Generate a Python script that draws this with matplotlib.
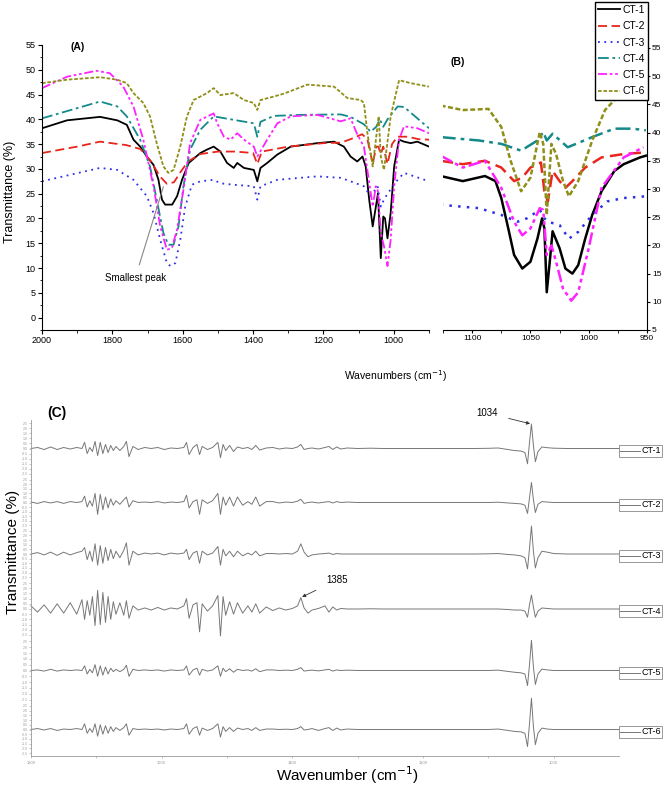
import matplotlib.pyplot as plt
import matplotlib.patches as patches
import numpy as np

plt.rcParams['font.family'] = ['Liberation Sans', 'DejaVu Sans']

W, H = 666, 785

series_names = ["CT-1", "CT-2", "CT-3", "CT-4", "CT-5", "CT-6"]
series_colors = ["black", "#e8261c", "#2e2ee6", "#14898a", "#ff22ff", "#8f8f1a"]
series_dashes = ["-", (0, (5, 2.5)), (0, (1, 2.5)), (0, (6, 2, 1.5, 2)),
                 (0, (5, 1.5, 1.5, 1.5, 1.5, 1.5)), (0, (2, 1))]

# ---- panel A: full range spectra (wavenumber, transmittance %) ----
a_ct1_wn = [2000, 1929, 1835, 1786, 1759, 1740, 1721, 1702, 1683, 1669, 1659, 1650, 1630,
            1616, 1602, 1583, 1550, 1531, 1512, 1493, 1474, 1455, 1445, 1426, 1398, 1388,
            1379, 1360, 1331, 1293, 1217, 1170, 1142, 1123, 1104, 1089, 1080, 1070, 1060,
            1051, 1045, 1037, 1030, 1025, 1018, 1009, 999, 985, 971, 952, 933, 900]
a_ct1_t = [38.2, 39.8, 40.5, 39.8, 38.9, 35.9, 34.5, 32.5, 30.8, 27.8, 23.8, 22.8, 22.8,
           24.5, 27.8, 31.2, 33.2, 33.9, 34.5, 33.5, 31.2, 30.2, 31.2, 30.2, 29.8, 27.5,
           30.2, 31.2, 32.9, 34.5, 35.2, 35.5, 34.5, 32.5, 31.5, 32.5, 30.5, 23.8, 18.4,
           22.4, 25.1, 12, 20.4, 20, 16, 21.1, 30.5, 35.9, 35.5, 35.2, 35.5, 34.5]

a_ct2_wn = [2000, 1900, 1835, 1760, 1720, 1690, 1665, 1645, 1625, 1605, 1585, 1550, 1500,
            1450, 1400, 1388, 1375, 1300, 1200, 1150, 1123, 1090, 1075, 1060, 1050, 1044,
            1037, 1030, 1018, 1005, 990, 960, 930, 900]
a_ct2_t = [33.2, 34.5, 35.5, 34.8, 34, 31.5, 28.5, 27, 27.3, 29.5, 31.5, 33, 33.5,
           33.5, 33.2, 31, 33.5, 34.5, 35.2, 35.3, 36, 37, 36, 31, 34.5, 34.5,
           33, 34.5, 31, 35, 36.5, 36.5, 36, 35.9]

a_ct3_wn = [2000, 1835, 1786, 1740, 1702, 1683, 1664, 1645, 1635, 1621, 1607, 1593, 1574,
            1550, 1512, 1493, 1455, 1398, 1388, 1379, 1331, 1217, 1151, 1123, 1085, 1066,
            1046, 1037, 1028, 1018, 989, 971, 900]
a_ct3_t = [27.5, 30.2, 29.8, 27.8, 24.5, 21.1, 15.7, 11, 10.4, 11, 15.7, 22.4, 26.8,
           27.5, 27.8, 27.1, 26.8, 26.5, 23.8, 26.5, 27.8, 28.5, 28.2, 27.5, 26.5, 24.5,
           26.5, 22.4, 23.8, 25, 27.8, 29.2, 27.5]

a_ct4_wn = [2000, 1835, 1786, 1759, 1721, 1693, 1674, 1655, 1641, 1626, 1612, 1598, 1579,
            1550, 1512, 1455, 1398, 1388, 1379, 1341, 1265, 1151, 1123, 1085, 1066, 1050,
            1040, 1030, 1018, 989, 971, 900]
a_ct4_t = [40.2, 43.6, 42.6, 40.6, 35.9, 30.5, 23.8, 17.1, 14.7, 14.7, 18.4, 26.5, 33.9,
           37.9, 40.6, 39.9, 39.2, 36.5, 39.5, 40.7, 40.9, 41, 40.5, 39, 37.5, 38.5,
           40, 38.5, 40, 42.6, 42.5, 38.2]

a_ct5_wn = [2000, 1929, 1845, 1807, 1769, 1740, 1712, 1683, 1664, 1645, 1631, 1616, 1598,
            1579, 1550, 1512, 1502, 1483, 1464, 1445, 1426, 1398, 1388, 1360, 1331, 1293,
            1217, 1151, 1123, 1104, 1085, 1071, 1060, 1051, 1045, 1037, 1028, 1018, 1009,
            999, 985, 971, 933, 900]
a_ct5_t = [46.3, 48.6, 49.8, 49.3, 46.6, 42.6, 35.9, 26.5, 18.4, 13.7, 14, 17.8, 25.8,
           35.2, 39.9, 41.2, 39.2, 36.5, 35.9, 37.2, 35.9, 34.5, 32.5, 35.9, 39.2, 40.6,
           40.9, 39.6, 40.2, 37, 34.5, 27.8, 22.4, 26.5, 25.5, 17.1, 14.4, 10.4, 15.7,
           26.5, 35.9, 38.6, 38.2, 37.2]

a_ct6_wn = [2000, 1929, 1835, 1786, 1759, 1740, 1712, 1693, 1674, 1655, 1641, 1626, 1607,
            1588, 1569, 1531, 1512, 1493, 1455, 1426, 1398, 1388, 1379, 1341, 1312, 1246,
            1170, 1132, 1094, 1085, 1075, 1060, 1043, 1037, 1028, 1009, 985, 952, 900]
a_ct6_t = [47.3, 48, 48.5, 48, 47.3, 45.3, 43.3, 40.6, 35.2, 30.5, 29.2, 29.8, 34.5,
           40.6, 43.9, 45.3, 46.3, 44.9, 45.3, 43.9, 43.3, 41.9, 43.9, 44.6, 45.2, 47,
           46.6, 44.3, 43.9, 43.3, 37.2, 30.5, 40.6, 32.5, 29.8, 40.6, 47.9, 47.3, 46.6]

# ---- panel B: 1125-950 region ----
b_ct1_wn = [1127, 1108, 1089, 1080, 1075, 1069, 1064, 1057, 1050, 1044, 1040, 1038, 1036,
            1033, 1031, 1025, 1020, 1014, 1009, 1003, 997, 989, 978, 970, 956, 951]
b_ct1_t = [32.3, 31.4, 32.3, 31.4, 28.4, 23, 18.3, 15.9, 17.1, 21.2, 24.8, 23, 11.7,
           18, 22.5, 19.5, 15.9, 15, 16.5, 21.2, 25.4, 29.6, 33.2, 34.4, 35.6, 35.9]

b_ct2_wn = [1127, 1108, 1089, 1075, 1064, 1057, 1050, 1041, 1038, 1035, 1031, 1025, 1020,
            1014, 1003, 989, 970, 951]
b_ct2_t = [35, 34.4, 35, 33.8, 31.4, 32, 33.8, 34.7, 29.6, 27.8, 33.2, 31.4, 30.2,
           31.4, 33.8, 35.6, 36.2, 36.5]

b_ct3_wn = [1127, 1094, 1075, 1061, 1053, 1042, 1038, 1035, 1025, 1017, 1009, 997, 984,
            970, 951]
b_ct3_t = [27.2, 26.6, 25.4, 24.2, 24.8, 26.3, 24.8, 24.2, 23.6, 21.2, 22.4, 25.4, 27.8,
           28.4, 28.7]

b_ct4_wn = [1127, 1094, 1075, 1058, 1044, 1039, 1036, 1031, 1018, 997, 978, 962, 951]
b_ct4_t = [39.2, 38.6, 38, 36.8, 38.6, 40.1, 38.6, 39.8, 37.4, 39.2, 40.7, 40.7, 40.4]

b_ct5_wn = [1127, 1108, 1089, 1075, 1064, 1057, 1050, 1042, 1039, 1036, 1032, 1028, 1022,
            1015, 1009, 1000, 989, 970, 953]
b_ct5_t = [35.9, 33.8, 35, 30.2, 24.2, 21.8, 23, 26.6, 26.3, 18.3, 20, 17.1, 12.3,
           10.2, 11.7, 19.5, 30.2, 35.6, 37.4]

b_ct6_wn = [1127, 1108, 1086, 1075, 1067, 1058, 1050, 1042, 1039, 1036, 1032, 1028, 1022,
            1017, 1009, 997, 986, 970, 951]
b_ct6_t = [44.8, 44, 44.2, 41, 35, 29.6, 32, 40.1, 38, 25.4, 38, 36.2, 31.4,
           28.7, 31.4, 38.6, 44, 47.5, 48.5]

# ---- panel C: second derivative traces, shared wavenumber grid ----
c_wn = [1800, 1790, 1780, 1770, 1760, 1750, 1740, 1730,
        1722, 1718, 1714, 1710, 1706, 1702, 1698, 1694, 1690, 1686, 1682, 1678, 1674, 1670,
        1664, 1658, 1654, 1650, 1644, 1636, 1626,
        1616, 1606, 1596, 1586, 1576,
        1566, 1562, 1558, 1552, 1546, 1542, 1538, 1530,
        1522, 1514, 1510, 1506, 1502, 1496, 1490, 1484, 1476,
        1468, 1462, 1456, 1450, 1440, 1430, 1420, 1410, 1400,
        1392, 1387, 1382, 1376, 1370, 1360, 1350, 1344, 1338, 1332, 1326, 1316,
        1300, 1280, 1260, 1240, 1220, 1200, 1180, 1160, 1140, 1120, 1100,
        1085, 1070, 1060, 1050, 1044, 1040, 1037, 1034, 1031, 1028, 1024, 1018, 1010, 1000,
        980, 960, 940, 920, 900]

c_ct1 = [0, 0.1, -0.1, 0.15, -0.1, 0.1, -0.05, 0.1,
         0, 0.6, -0.5, 0.1, -0.3, 0.7, -0.7, 0.6, -0.5, 0.4, -0.4, 0.3, -0.2, 0.2,
         -0.2, 0.2, 0.7, -0.8, 0.2, -0.1, 0.1,
         0, 0.1, -0.1, 0.05, 0,
         0.1, 0.6, -0.6, 0.1, 0.4, -0.6, 0.2, -0.1,
         0.1, 0.6, -0.9, 0.4, -0.2, 0.3, -0.3, 0.15, 0,
         0.1, -0.1, 0.3, -0.15, 0.05, 0.1, -0.05, 0.05, 0,
         0.15, 0.4, -0.1, 0, 0.05, -0.05, 0.1, 0.2, -0.1, 0.15, -0.05, 0.05,
         0, 0.03, 0, 0, 0, 0, 0, 0, 0, 0, 0.02,
         0.05, -0.1, -0.2, -0.25, -0.4, -1.5, 0.6, 2.4, 0.3, -1.3, -0.3, 0.15, 0.08, 0.03,
         0, 0, 0, 0, 0]
c_ct2 = [0.05, -0.1, 0.1, -0.05, 0.1, -0.1, 0.1, 0,
         0.1, 0.7, -0.5, 0.2, -0.4, 1.0, -1.3, 0.9, -0.8, 0.6, -0.6, 0.4, -0.3, 0.2,
         -0.2, 0.3, 0.6, -0.5, 0.2, 0, 0.05,
         0, 0.1, -0.05, 0.05, 0,
         0.1, 0.8, -0.6, 0.1, 0.3, -1.3, 0.3, -0.1,
         0.2, 1.0, -1.3, 0.6, -0.3, 0.6, -0.4, 0.6, -0.3,
         0.1, -0.2, 0.6, -0.4, 0.1, 0.1, -0.05, 0.05, 0,
         0.15, 0.35, -0.1, 0, 0.05, -0.05, 0.05, 0.1, -0.05, 0.1, 0, 0.05,
         0, 0, 0, 0, 0, 0, 0, 0, 0, 0, 0,
         0.03, -0.05, -0.1, -0.15, -0.3, -1.2, 0.5, 2.2, 0.3, -1.1, -0.2, 0.1, 0.05, 0,
         0, 0, 0, 0, 0]
c_ct3 = [0, 0.15, -0.1, 0.2, -0.15, 0.2, -0.1, 0.15,
         0.3, 0.7, -0.6, 0.3, -0.8, 1.1, -1.2, 0.9, -1.0, 0.7, -0.7, 0.5, -0.5, 0.3,
         -0.4, 0.4, 1.2, -1.2, 0.3, -0.1, 0.1,
         0, 0.1, -0.1, 0.1, 0,
         0.1, 0.5, -0.6, 0.1, 0.3, -1.0, 0.3, -0.1,
         0.1, 0.8, -1.2, 0.5, -0.2, 0.3, -0.3, 0.3, -0.2,
         0.1, -0.1, 0.3, -0.2, 0.05, 0.05, 0, 0.05, 0,
         0.3, 1.1, 0.2, -0.3, -0.1, 0, 0.05, 0.1, -0.05, 0.05, 0, 0,
         0, 0, 0, 0, 0, 0, 0, 0, 0, 0, 0.02,
         0.05, -0.05, -0.1, -0.2, -0.4, -1.6, 0.6, 3.0, 0.3, -1.5, -0.4, 0.3, 0.2, 0.05,
         0, 0, 0, 0, 0]
c_ct4 = [0.3, -0.3, 0.4, -0.4, 0.5, -0.4, 0.6, -0.5,
         0.9, -1.0, 0.8, -0.6, 1.2, -1.6, 1.8, -1.5, 1.6, -1.3, 1.2, -1.0, 0.7, -0.5,
         0.6, -0.6, 0.8, -0.9, 0.3, -0.1, 0.1,
         -0.1, 0.15, -0.1, 0.1, 0,
         0.3, 1.0, -0.9, 0.4, 0.6, -2.2, 0.5, -0.2,
         0.3, 1.3, -2.6, 1.2, -0.6, 0.7, -0.5, 0.6, -0.4,
         0.3, -0.3, 0.5, -0.4, 0.2, -0.15, 0.1, -0.1, 0.05,
         0.3, 1.1, 0.1, -0.4, -0.1, 0.05, 0.3, -0.3, 0.2, -0.1, 0.05, 0,
         0, 0.02, 0, 0, 0, 0, 0, 0, 0, 0, 0,
         0, -0.05, -0.1, -0.1, -0.2, -0.8, 0.4, 1.35, 0.2, -0.8, -0.2, 0.1, 0.05, 0,
         0, 0, 0, 0, 0]
c_ct5 = [0, 0.05, -0.05, 0.1, -0.05, 0.05, 0, 0.05,
         0, 0.4, -0.3, 0.1, -0.2, 0.5, -0.5, 0.4, -0.4, 0.3, -0.3, 0.2, -0.1, 0.1,
         -0.1, 0.1, 0.45, -0.5, 0.1, 0, 0.05,
         0, 0.05, -0.05, 0.05, 0,
         0.05, 0.4, -0.4, 0.05, 0.2, -0.4, 0.1, -0.05,
         0.05, 0.4, -0.5, 0.2, -0.1, 0.15, -0.15, 0.1, 0,
         0.05, -0.05, 0.15, -0.1, 0.05, 0.05, 0, 0.03, 0,
         0.1, 0.25, -0.05, 0, 0.03, -0.03, 0.05, 0.1, -0.05, 0.05, 0, 0.03,
         0, 0, 0, 0, 0, 0, 0, 0, 0, 0, 0,
         0.03, -0.08, -0.15, -0.2, -0.3, -1.3, 0.5, 2.6, 0.3, -1.2, -0.3, 0.12, 0.05, 0,
         0, 0, 0, 0, 0]
c_ct6 = [0, 0.1, -0.05, 0.1, -0.1, 0.05, 0, 0.1,
         0, 0.6, -0.4, 0.1, -0.3, 0.6, -0.7, 0.5, -0.5, 0.4, -0.4, 0.3, -0.2, 0.2,
         -0.1, 0.2, 0.6, -0.6, 0.1, 0, 0.05,
         0, 0.05, -0.05, 0.05, 0,
         0.1, 0.6, -0.5, 0.1, 0.3, -0.6, 0.15, -0.1,
         0.1, 0.6, -0.8, 0.3, -0.2, 0.2, -0.2, 0.15, 0,
         0.1, -0.1, 0.2, -0.1, 0.05, 0.05, 0, 0.03, 0,
         0.1, 0.3, -0.05, 0, 0.1, -0.1, 0.1, 0.2, -0.1, 0.15, -0.05, 0.05,
         0, 0, 0, 0, 0, 0, 0, 0, 0, 0, 0,
         0.05, -0.1, -0.2, -0.25, -0.4, -1.8, 0.6, 3.3, 0.3, -1.6, -0.4, 0.15, 0.05, 0,
         0, 0, 0, 0, 0]

# pixel rows bounding the six stacked strips of panel C
c_strip_edges = [420, 477, 528, 580, 638, 703, 756]


def fig_box(left, top, right, bottom):
    return [left / W, 1 - bottom / H, (right - left) / W, (bottom - top) / H]


def draw_panel_a(fig):
    ax = fig.add_axes(fig_box(42, 45, 429, 330))
    data = [(a_ct1_wn, a_ct1_t), (a_ct2_wn, a_ct2_t), (a_ct3_wn, a_ct3_t),
            (a_ct4_wn, a_ct4_t), (a_ct5_wn, a_ct5_t), (a_ct6_wn, a_ct6_t)]
    lines = []
    for i, (wn, t) in enumerate(data):
        ln, = ax.plot(wn, t, color=series_colors[i], linestyle=series_dashes[i],
                      lw=1.3, label=series_names[i])
        lines.append(ln)
    ax.set_xlim(2000, 900)
    ax.set_ylim(-2.5, 55)
    ax.set_yticks(range(0, 56, 5))
    ax.set_yticks(np.arange(-2.5, 55, 2.5), minor=True)
    ax.set_xticks([2000, 1800, 1600, 1400, 1200, 1000])
    ax.set_xticks([1900, 1700, 1500, 1300, 1100, 900], minor=True)
    ax.spines["top"].set_visible(False)
    ax.spines["right"].set_visible(False)
    ax.tick_params(which="major", length=3, width=0.8, labelsize=6.5, pad=1.5)
    ax.tick_params(which="minor", length=1.8, width=0.6)
    ax.annotate("Smallest peak", xy=(1655, 26.4), xytext=(1735, 8), fontsize=7,
                ha="center", va="center",
                arrowprops=dict(arrowstyle="-", color="#888888", lw=0.8, shrinkA=4, shrinkB=0))
    fig.text(78 / W, 1 - 47 / H, "(A)", fontsize=7.5, fontweight="bold", ha="center", va="center")
    fig.text(10 / W, 1 - 192 / H, "Transmittance (%)", fontsize=9, rotation=90,
             ha="center", va="center")
    fig.text(395 / W, 1 - 376 / H, "Wavenumbers (cm$^{-1}$)", fontsize=7.5,
             ha="center", va="center")
    return lines


def draw_panel_b(fig):
    ax = fig.add_axes(fig_box(443, 48, 647, 330))
    data = [(b_ct1_wn, b_ct1_t), (b_ct2_wn, b_ct2_t), (b_ct3_wn, b_ct3_t),
            (b_ct4_wn, b_ct4_t), (b_ct5_wn, b_ct5_t), (b_ct6_wn, b_ct6_t)]
    for i, (wn, t) in enumerate(data):
        ax.plot(wn, t, color=series_colors[i], linestyle=series_dashes[i], lw=1.8)
    ax.set_xlim(1125, 950)
    ax.set_ylim(5, 55)
    ax.set_yticks(range(5, 56, 5))
    ax.set_xticks([1100, 1050, 1000, 950])
    ax.set_xticks([1125, 1075, 1025, 975], minor=True)
    ax.spines["top"].set_visible(False)
    ax.spines["left"].set_visible(False)
    ax.yaxis.tick_right()
    ax.tick_params(which="major", length=2.5, width=0.8, labelsize=6, pad=1)
    ax.tick_params(which="minor", length=1.8, width=0.6)
    fig.text(458 / W, 1 - 62 / H, "(B)", fontsize=7.5, fontweight="bold", ha="center", va="center")


def draw_panel_c(fig):
    traces = [c_ct1, c_ct2, c_ct3, c_ct4, c_ct5, c_ct6]
    tick_vals = np.arange(-2.5, 2.6, 0.5)
    axes = []
    for i, trace in enumerate(traces):
        top, bottom = c_strip_edges[i], c_strip_edges[i + 1]
        ax = fig.add_axes(fig_box(31, top, 619, bottom))
        ax.plot(c_wn, trace, color="#777777", lw=0.7, clip_on=False)
        ax.set_xlim(1800, 900)
        ax.set_ylim(-2.8, 2.8)
        ax.set_yticks(tick_vals)
        ax.set_yticklabels(["%.1f" % v for v in tick_vals])
        ax.patch.set_alpha(0)
        for side in ["top", "right"]:
            ax.spines[side].set_visible(False)
        ax.spines["left"].set_color("#999999")
        ax.spines["left"].set_linewidth(0.6)
        ax.tick_params(axis="y", length=1.5, width=0.4, colors="#999999",
                       labelsize=2.5, pad=1)
        if i < len(traces) - 1:
            ax.spines["bottom"].set_visible(False)
            ax.set_xticks([])
        else:
            ax.spines["bottom"].set_color("#999999")
            ax.spines["bottom"].set_linewidth(0.6)
            ax.set_xticks([1800, 1600, 1400, 1200, 1000])
            ax.set_xticks([1700, 1500, 1300, 1100], minor=True)
            ax.tick_params(axis="x", which="both", length=1.5, width=0.4, colors="#999999",
                           labelsize=3, pad=2)
        axes.append(ax)

        # small label box at the right end of each trace
        base_y = (top + bottom) / 2 + 2
        fig.patches.append(patches.Rectangle((619 / W, 1 - (base_y + 6) / H), 43 / W, 12 / H,
                                             transform=fig.transFigure, fill=False,
                                             edgecolor="#888888", lw=0.6))
        fig.lines.append(plt.Line2D([620 / W, 640 / W], [1 - base_y / H, 1 - base_y / H],
                                    transform=fig.transFigure, color="#777777", lw=0.7))
        fig.text(651 / W, 1 - base_y / H, series_names[i], fontsize=6.5,
                 ha="center", va="center")

    axes[0].annotate("1034", xy=(1034, 2.4), xytext=(487 / W, 1 - 413 / H),
                     textcoords="figure fraction", fontsize=7, ha="center", va="center",
                     arrowprops=dict(arrowstyle="-|>", color="#333333", lw=0.6,
                                     mutation_scale=5, shrinkA=6, shrinkB=1))
    axes[3].annotate("1385", xy=(1387, 1.1), xytext=(337 / W, 1 - 580 / H),
                     textcoords="figure fraction", fontsize=7, ha="center", va="center",
                     arrowprops=dict(arrowstyle="-|>", color="#333333", lw=0.6,
                                     mutation_scale=5, shrinkA=6, shrinkB=1))
    fig.text(57 / W, 1 - 413 / H, "(C)", fontsize=10, fontweight="bold", ha="center", va="center")
    fig.text(13 / W, 1 - 552 / H, "Transmittance (%)", fontsize=11, rotation=90,
             ha="center", va="center")
    fig.text(347 / W, 1 - 775 / H, "Wavenumber (cm$^{-1}$)", fontsize=11,
             ha="center", va="center")


fig = plt.figure(figsize=(W / 100, H / 100), dpi=100)
lines = draw_panel_a(fig)
draw_panel_b(fig)
draw_panel_c(fig)

fig.legend(handles=lines, loc="upper right", bbox_to_anchor=(648 / W, 1 - 2 / H),
           fontsize=7.5, handlelength=2.1, handletextpad=0.25, labelspacing=0.6,
           borderpad=0.3, borderaxespad=0, frameon=True, fancybox=False,
           edgecolor="black", framealpha=1)

plt.savefig("out.png", dpi=100)
